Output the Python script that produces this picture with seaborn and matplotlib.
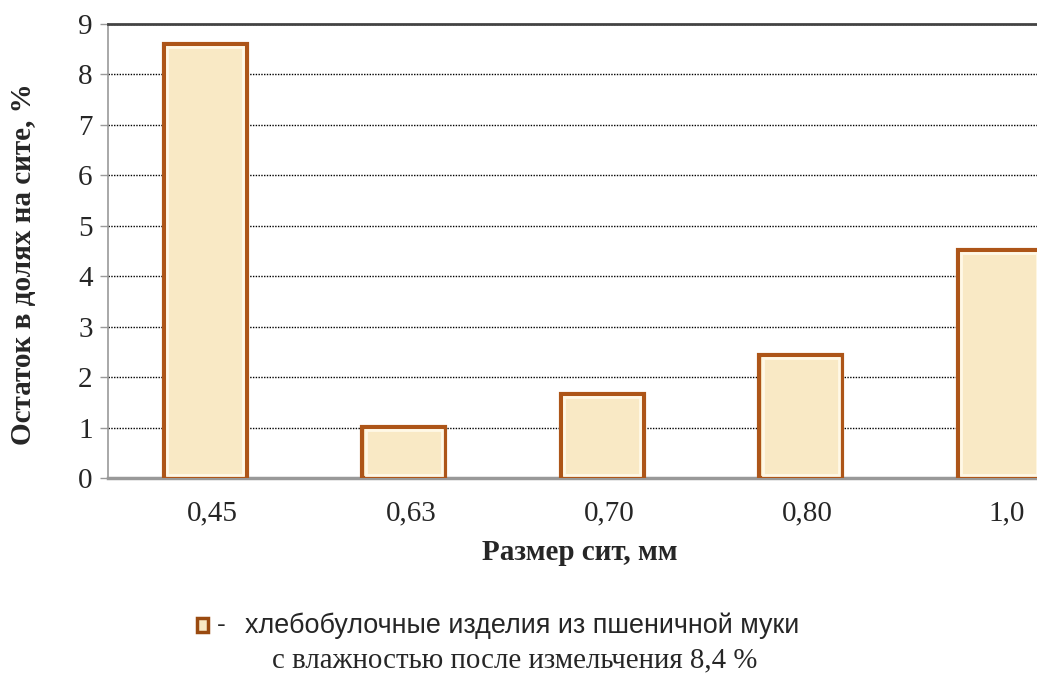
import numpy as np
import pandas as pd
import matplotlib.pyplot as plt
import matplotlib.transforms as mtransforms
import seaborn as sns
from matplotlib.patches import Rectangle

sieve = ['0,45', '0,63', '0,70', '0,80', '1,0']
residue = [8.61, 1.01, 1.67, 2.44, 4.52]

df = pd.DataFrame({'sieve': sieve, 'residue': residue})

sns.set_style('white')
plt.rcParams['font.family'] = ['Liberation Serif', 'DejaVu Serif']

fig = plt.figure(figsize=(10.37, 6.73), dpi=100)
ax = fig.add_axes([108 / 1037, 195 / 673, 1 - 108 / 1037, 454 / 673])

sns.barplot(data=df, x='sieve', y='residue', ax=ax, width=0.418,
            color='#F9E9C5', edgecolor='#AD5518', linewidth=3, saturation=1,
            zorder=3)

# внутренняя светлая рамка для эффекта объёма
for p in ax.patches:
    x, y = p.get_x(), p.get_y()
    w, h = p.get_width(), p.get_height()
    ax.add_patch(Rectangle((x + w * 0.04, y + 0.06), w * 0.92, h - 0.12,
                           fill=False, edgecolor='#FFF8E6', linewidth=2,
                           zorder=4))

ax.set_ylim(0, 9)
ax.set_xlim(-0.49, 4.19)
ax.set_yticks(range(0, 10))
ax.yaxis.grid(True, linestyle=(0, (1, 1)), color='black', linewidth=1, zorder=0)
ax.xaxis.grid(False)

for s in ['left', 'bottom']:
    ax.spines[s].set_color('#999999')
ax.spines['left'].set_linewidth(1.2)
ax.spines['bottom'].set_linewidth(2.5)
ax.spines['top'].set_color('#444444')
ax.spines['top'].set_linewidth(2)
ax.spines['right'].set_visible(False)

ax.tick_params(axis='y', length=6, width=1, color='#999999', labelsize=21, pad=5, left=True)
ax.tick_params(axis='x', length=0, labelsize=21, pad=16)

# подписи по оси X немного смещены вправо
shift = mtransforms.ScaledTranslation(7 / 100, 0, fig.dpi_scale_trans)
for lab in ax.get_xticklabels():
    lab.set_transform(lab.get_transform() + shift)

ax.set_xlabel('')
ax.set_ylabel('')
fig.text(24 / 1037, 1 - 264 / 673, 'Остаток в долях на сите, %', rotation=90,
         ha='center', va='center', fontsize=21, fontweight='bold')
fig.text(580 / 1037, 1 - 552 / 673, 'Размер сит, мм', ha='center', va='center',
         fontsize=21, fontweight='bold')

# легенда
fig.patches.append(Rectangle((197 / 1037, 1 - 632 / 673), 11 / 1037, 14 / 673,
                             transform=fig.transFigure, facecolor='#F9E9C5',
                             edgecolor='#9A4A10', linewidth=2.5))
fig.text(217 / 1037, 1 - 625 / 673, '-', ha='left', va='center', fontsize=19,
         family=['Liberation Sans', 'DejaVu Sans'])
fig.text(245 / 1037, 1 - 626 / 673, 'хлебобулочные изделия из пшеничной муки',
         ha='left', va='center', fontsize=19.4, family=['Liberation Sans', 'DejaVu Sans'])
fig.text(272 / 1037, 1 - 660 / 673, 'с влажностью после измельчения 8,4 %',
         ha='left', va='center', fontsize=20.8)

fig.savefig('out.png', dpi=100)
